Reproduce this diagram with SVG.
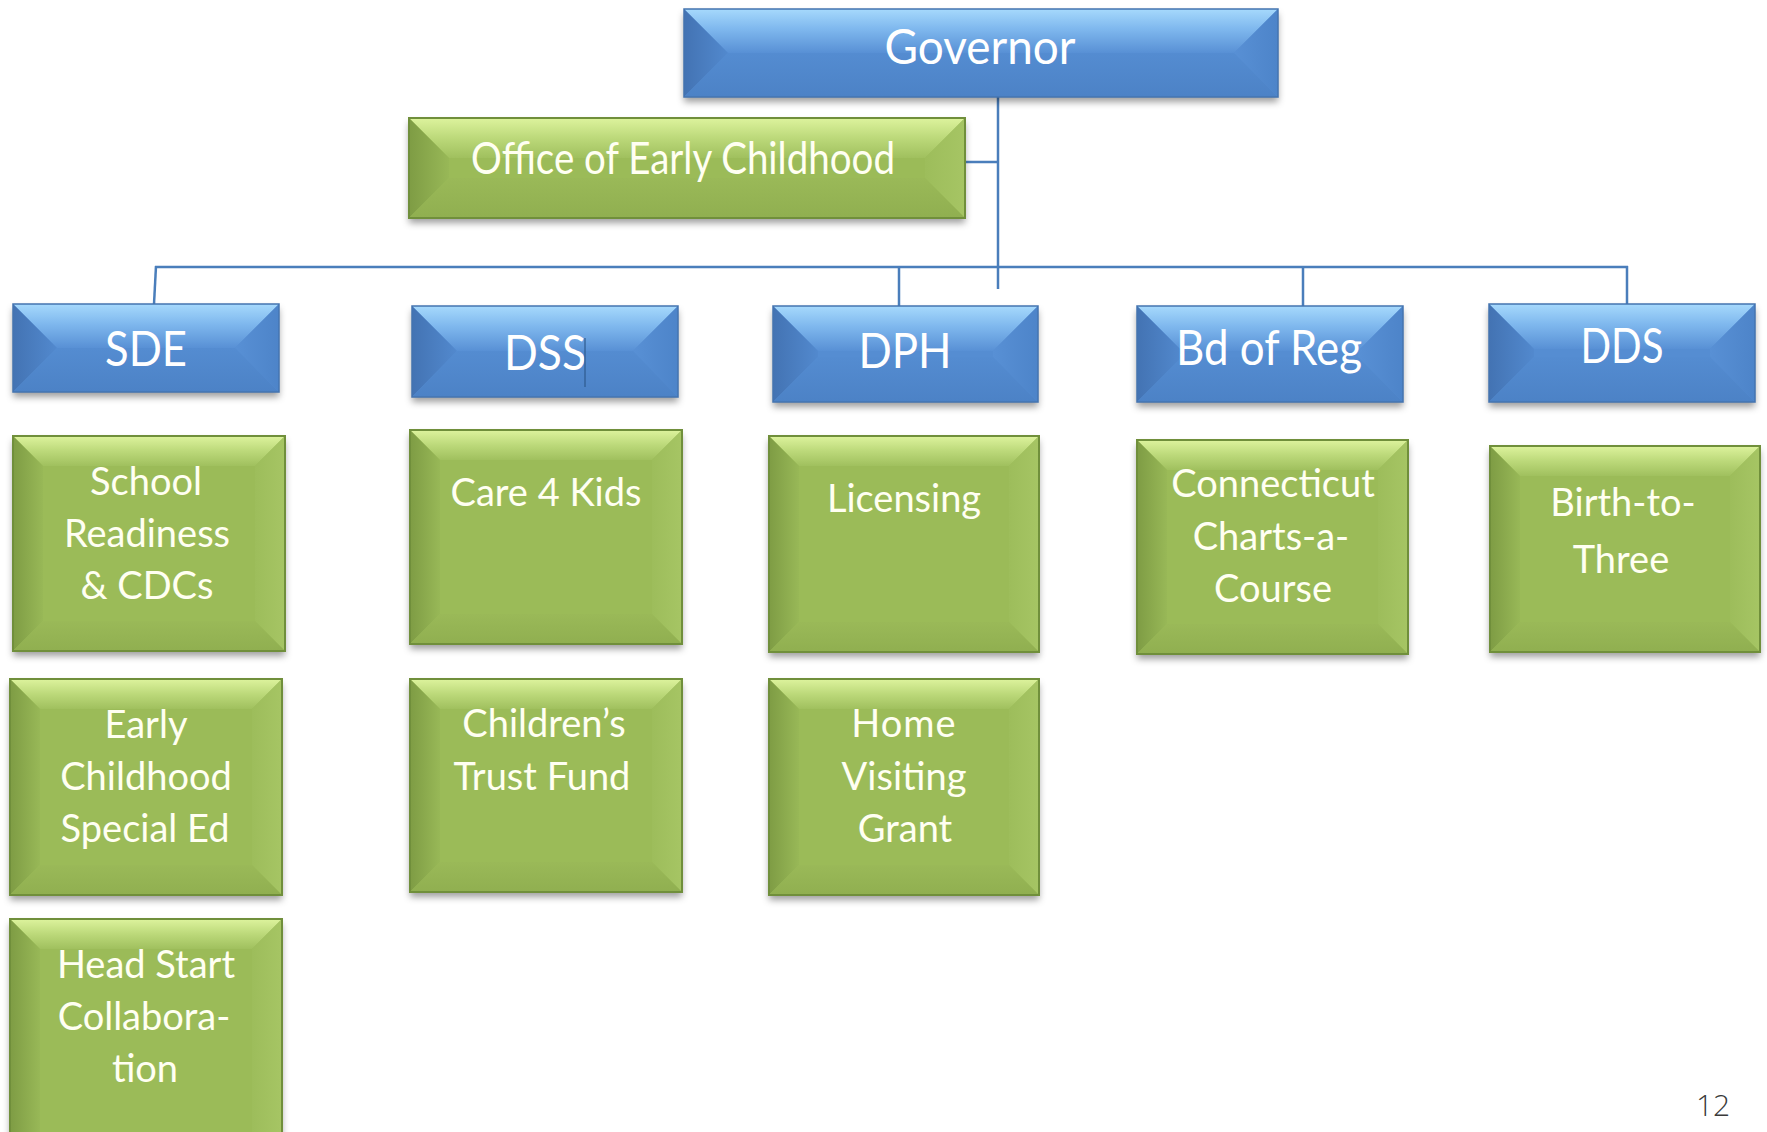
<svg xmlns="http://www.w3.org/2000/svg" width="1767" height="1132" viewBox="0 0 1767 1132">
<defs>
<linearGradient id="gbTop" x1="0" y1="0" x2="0" y2="1"><stop offset="0" stop-color="#A6D9FC"/><stop offset="0.45" stop-color="#7FB8EE"/><stop offset="1" stop-color="#5890D5"/></linearGradient>
<linearGradient id="gbL" x1="0" y1="0" x2="1" y2="0"><stop offset="0" stop-color="#4373B3"/><stop offset="1" stop-color="#5289CE"/></linearGradient>
<linearGradient id="gbR" x1="0" y1="0" x2="1" y2="0"><stop offset="0" stop-color="#5890D5"/><stop offset="1" stop-color="#4D84C9"/></linearGradient>
<linearGradient id="gbB" x1="0" y1="0" x2="0" y2="1"><stop offset="0" stop-color="#548CD1"/><stop offset="1" stop-color="#4C82C6"/></linearGradient>
<linearGradient id="ggTop" x1="0" y1="0" x2="0" y2="1"><stop offset="0" stop-color="#DDF39D"/><stop offset="0.5" stop-color="#BCD97A"/><stop offset="1" stop-color="#A0C05E"/></linearGradient>
<linearGradient id="ggL" x1="0" y1="0" x2="1" y2="0"><stop offset="0" stop-color="#7E9C44"/><stop offset="1" stop-color="#98B857"/></linearGradient>
<linearGradient id="ggR" x1="0" y1="0" x2="1" y2="0"><stop offset="0" stop-color="#9DBD5B"/><stop offset="1" stop-color="#A6C564"/></linearGradient>
<linearGradient id="ggB" x1="0" y1="0" x2="0" y2="1"><stop offset="0" stop-color="#9AB958"/><stop offset="1" stop-color="#90AF50"/></linearGradient>
<filter id="sh" x="-10%" y="-10%" width="120%" height="130%"><feDropShadow dx="0" dy="5" stdDeviation="3.5" flood-color="#000" flood-opacity="0.38"/></filter>
</defs>
<style>
.bm{fill:#558DD2;filter:url(#sh)}
.bt{fill:url(#gbTop)}
.bl{fill:url(#gbL)}
.br{fill:url(#gbR)}
.bb{fill:url(#gbB)}
.bo{fill:none;stroke:#4474B0;stroke-width:1.5}
.gm{fill:#9BBB59;filter:url(#sh)}
.gt{fill:url(#ggTop)}
.gl{fill:url(#ggL)}
.gr{fill:url(#ggR)}
.gb{fill:url(#ggB)}
.go{fill:none;stroke:#708F3B;stroke-width:2}
.tb{font-family:Lato,"Liberation Sans",sans-serif;font-size:48px;fill:#FFFFFF;text-anchor:middle}
.tg{font-family:Lato,"Liberation Sans",sans-serif;font-size:38px;fill:#FFFFF2;text-anchor:middle}
.conn{stroke:#4A7EBB;stroke-width:2.5;fill:none}
</style>

<g id="connectors">
<line class="conn" x1="998" y1="97" x2="998" y2="289"/>
<line class="conn" x1="960" y1="162" x2="998" y2="162"/>
<line class="conn" x1="155" y1="267" x2="1628" y2="267"/>
<line class="conn" x1="156" y1="266" x2="154" y2="304"/>
<line class="conn" x1="899" y1="267" x2="899" y2="306"/>
<line class="conn" x1="1303" y1="267" x2="1303" y2="306"/>
<line class="conn" x1="1627" y1="266" x2="1627" y2="304"/>
</g>

<g id="governor">
<rect class="bm" x="684" y="9" width="594" height="88"/>
<polygon class="bt" points="684,9 1278,9 1234,53 728,53"/>
<polygon class="bl" points="684,9 728,53 684,97"/>
<polygon class="br" points="1278,9 1278,97 1234,53"/>
<polygon class="bb" points="684,97 728,53 1234,53 1278,97"/>
<rect class="bo" x="684" y="9" width="594" height="88"/>
<text class="tb" x="980" y="64" textLength="191" lengthAdjust="spacingAndGlyphs">Governor</text>
</g>

<g id="oec">
<rect class="gm" x="409" y="118" width="556" height="100"/>
<polygon class="gt" points="409,118 965,118 925,158 449,158"/>
<polygon class="gl" points="409,118 449,158 449,178 409,218"/>
<polygon class="gr" points="965,118 965,218 925,178 925,158"/>
<polygon class="gb" points="409,218 449,178 925,178 965,218"/>
<rect class="go" x="409" y="118" width="556" height="100"/>
<text class="tb" style="font-size:44px;fill:#FFFFF2" x="683" y="174" textLength="424" lengthAdjust="spacingAndGlyphs">Office of Early Childhood</text>
</g>

<g id="sde">
<rect class="bm" x="13" y="304" width="266" height="88"/>
<polygon class="bt" points="13,304 279,304 235,348 57,348"/>
<polygon class="bl" points="13,304 57,348 13,392"/>
<polygon class="br" points="279,304 279,392 235,348"/>
<polygon class="bb" points="13,392 57,348 235,348 279,392"/>
<rect class="bo" x="13" y="304" width="266" height="88"/>
<text class="tb" x="146" y="366" textLength="82" lengthAdjust="spacingAndGlyphs">SDE</text>
</g>

<g id="dss">
<rect class="bm" x="412" y="306" width="266" height="91"/>
<polygon class="bt" points="412,306 678,306 633,351 457,351"/>
<polygon class="bl" points="412,306 457,351 412,397"/>
<polygon class="br" points="678,306 678,397 633,351"/>
<polygon class="bb" points="412,397 457,351 633,351 678,397"/>
<rect class="bo" x="412" y="306" width="266" height="91"/>
<text class="tb" x="545" y="370" textLength="82" lengthAdjust="spacingAndGlyphs">DSS</text>
<line x1="585" y1="338" x2="585" y2="387" stroke="#2E5A8E" stroke-width="1.2"/>
</g>

<g id="dph">
<rect class="bm" x="773" y="306" width="265" height="96"/>
<polygon class="bt" points="773,306 1038,306 993,351 818,351"/>
<polygon class="bl" points="773,306 818,351 818,357 773,402"/>
<polygon class="br" points="1038,306 1038,402 993,357 993,351"/>
<polygon class="bb" points="773,402 818,357 993,357 1038,402"/>
<rect class="bo" x="773" y="306" width="265" height="96"/>
<text class="tb" x="905" y="368" textLength="93" lengthAdjust="spacingAndGlyphs">DPH</text>
</g>

<g id="bdreg">
<rect class="bm" x="1137" y="306" width="266" height="96"/>
<polygon class="bt" points="1137,306 1403,306 1358,351 1182,351"/>
<polygon class="bl" points="1137,306 1182,351 1182,357 1137,402"/>
<polygon class="br" points="1403,306 1403,402 1358,357 1358,351"/>
<polygon class="bb" points="1137,402 1182,357 1358,357 1403,402"/>
<rect class="bo" x="1137" y="306" width="266" height="96"/>
<text class="tb" x="1269" y="365" textLength="186" lengthAdjust="spacingAndGlyphs">Bd of Reg</text>
</g>

<g id="dds">
<rect class="bm" x="1489" y="304" width="266" height="98"/>
<polygon class="bt" points="1489,304 1755,304 1710,349 1534,349"/>
<polygon class="bl" points="1489,304 1534,349 1534,357 1489,402"/>
<polygon class="br" points="1755,304 1755,402 1710,357 1710,349"/>
<polygon class="bb" points="1489,402 1534,357 1710,357 1755,402"/>
<rect class="bo" x="1489" y="304" width="266" height="98"/>
<text class="tb" x="1622" y="363" textLength="83" lengthAdjust="spacingAndGlyphs">DDS</text>
</g>

<g id="school-readiness">
<rect class="gm" x="13" y="436" width="272" height="215"/>
<polygon class="gt" points="13,436 285,436 255,466 43,466"/>
<polygon class="gl" points="13,436 43,466 43,621 13,651"/>
<polygon class="gr" points="285,436 285,651 255,621 255,466"/>
<polygon class="gb" points="13,651 43,621 255,621 285,651"/>
<rect class="go" x="13" y="436" width="272" height="215"/>
<text class="tg" x="146" y="495">School</text>
<text class="tg" x="147" y="547">Readiness</text>
<text class="tg" x="147" y="599">&amp; CDCs</text>
</g>

<g id="ec-special-ed">
<rect class="gm" x="10" y="679" width="272" height="216"/>
<polygon class="gt" points="10,679 282,679 252,709 40,709"/>
<polygon class="gl" points="10,679 40,709 40,865 10,895"/>
<polygon class="gr" points="282,679 282,895 252,865 252,709"/>
<polygon class="gb" points="10,895 40,865 252,865 282,895"/>
<rect class="go" x="10" y="679" width="272" height="216"/>
<text class="tg" x="146" y="738">Early</text>
<text class="tg" x="146" y="790">Childhood</text>
<text class="tg" x="145" y="842">Special Ed</text>
</g>

<g id="head-start">
<rect class="gm" x="10" y="919" width="272" height="240"/>
<polygon class="gt" points="10,919 282,919 252,949 40,949"/>
<polygon class="gl" points="10,919 40,949 40,1132 10,1132"/>
<polygon class="gr" points="282,919 282,1132 252,1132 252,949"/>
<rect class="go" x="10" y="919" width="272" height="240"/>
<text class="tg" x="146" y="978">Head Start</text>
<text class="tg" x="144" y="1030">Collabora-</text>
<text class="tg" x="145" y="1082">tion</text>
</g>

<g id="care4kids">
<rect class="gm" x="410" y="430" width="272" height="214"/>
<polygon class="gt" points="410,430 682,430 652,460 440,460"/>
<polygon class="gl" points="410,430 440,460 440,614 410,644"/>
<polygon class="gr" points="682,430 682,644 652,614 652,460"/>
<polygon class="gb" points="410,644 440,614 652,614 682,644"/>
<rect class="go" x="410" y="430" width="272" height="214"/>
<text class="tg" x="546" y="506">Care 4 Kids</text>
</g>

<g id="childrens-trust">
<rect class="gm" x="410" y="679" width="272" height="213"/>
<polygon class="gt" points="410,679 682,679 652,709 440,709"/>
<polygon class="gl" points="410,679 440,709 440,862 410,892"/>
<polygon class="gr" points="682,679 682,892 652,862 652,709"/>
<polygon class="gb" points="410,892 440,862 652,862 682,892"/>
<rect class="go" x="410" y="679" width="272" height="213"/>
<text class="tg" x="544" y="737">Children’s</text>
<text class="tg" x="542" y="790">Trust Fund</text>
</g>

<g id="licensing">
<rect class="gm" x="769" y="436" width="270" height="216"/>
<polygon class="gt" points="769,436 1039,436 1009,466 799,466"/>
<polygon class="gl" points="769,436 799,466 799,622 769,652"/>
<polygon class="gr" points="1039,436 1039,652 1009,622 1009,466"/>
<polygon class="gb" points="769,652 799,622 1009,622 1039,652"/>
<rect class="go" x="769" y="436" width="270" height="216"/>
<text class="tg" x="904" y="512">Licensing</text>
</g>

<g id="home-visiting">
<rect class="gm" x="769" y="679" width="270" height="216"/>
<polygon class="gt" points="769,679 1039,679 1009,709 799,709"/>
<polygon class="gl" points="769,679 799,709 799,865 769,895"/>
<polygon class="gr" points="1039,679 1039,895 1009,865 1009,709"/>
<polygon class="gb" points="769,895 799,865 1009,865 1039,895"/>
<rect class="go" x="769" y="679" width="270" height="216"/>
<text class="tg" x="904" y="737" letter-spacing="1">Home</text>
<text class="tg" x="904" y="790">Visiting</text>
<text class="tg" x="905" y="842">Grant</text>
</g>

<g id="charts-a-course">
<rect class="gm" x="1137" y="440" width="271" height="214"/>
<polygon class="gt" points="1137,440 1408,440 1378,470 1167,470"/>
<polygon class="gl" points="1137,440 1167,470 1167,624 1137,654"/>
<polygon class="gr" points="1408,440 1408,654 1378,624 1378,470"/>
<polygon class="gb" points="1137,654 1167,624 1378,624 1408,654"/>
<rect class="go" x="1137" y="440" width="271" height="214"/>
<text class="tg" x="1273" y="497">Connecticut</text>
<text class="tg" x="1271" y="550">Charts-a-</text>
<text class="tg" x="1273" y="602">Course</text>
</g>

<g id="birth-to-three">
<rect class="gm" x="1490" y="446" width="270" height="206"/>
<polygon class="gt" points="1490,446 1760,446 1730,476 1520,476"/>
<polygon class="gl" points="1490,446 1520,476 1520,622 1490,652"/>
<polygon class="gr" points="1760,446 1760,652 1730,622 1730,476"/>
<polygon class="gb" points="1490,652 1520,622 1730,622 1760,652"/>
<rect class="go" x="1490" y="446" width="270" height="206"/>
<text class="tg" x="1623" y="516">Birth-to-</text>
<text class="tg" x="1621" y="573">Three</text>
</g>

<text x="1713" y="1116" font-family="'Open Sans','DejaVu Sans',sans-serif" font-size="30" font-weight="300" fill="#3A3A3A" text-anchor="middle">12</text>
</svg>
